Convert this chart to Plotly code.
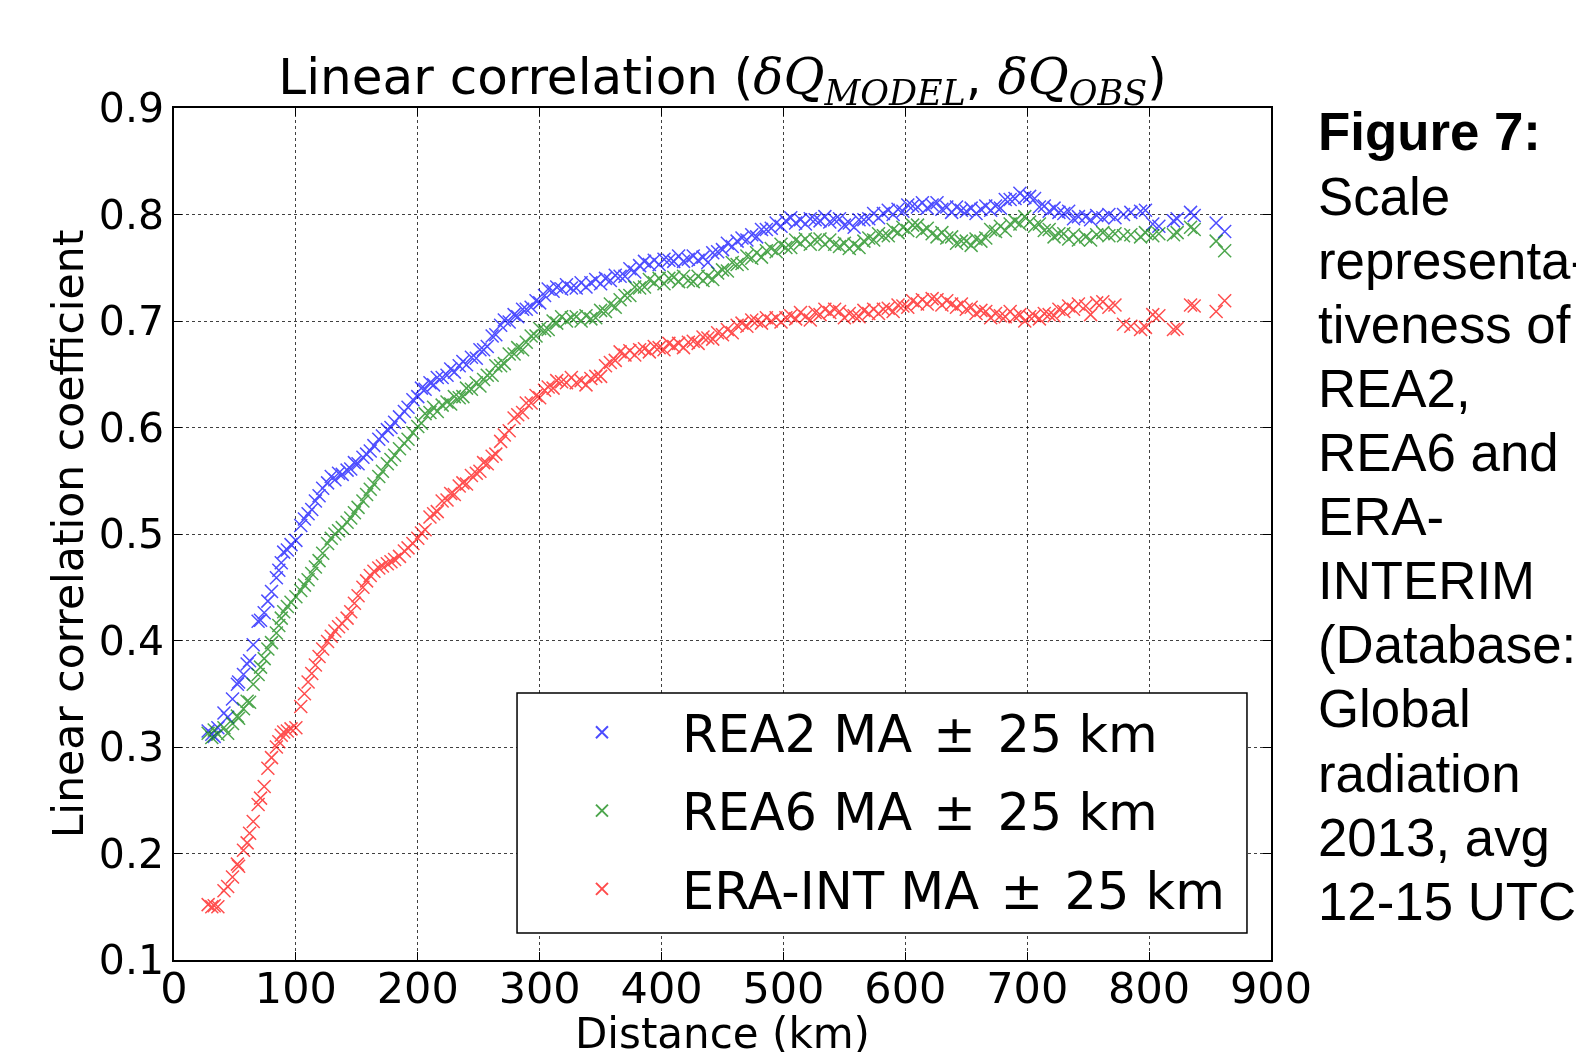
import plotly.graph_objects as go

# ---------------- data ----------------
distance_km = [
    28, 31, 33, 36, 41, 44, 48, 52, 53, 57,
    60, 62, 65, 69, 71, 74, 77, 80, 84, 86,
    88, 90, 93, 96, 100, 104, 107, 110, 113, 116,
    119, 122, 126, 129, 132, 135, 138, 142, 145, 148,
    151, 155, 158, 161, 164, 168, 171, 175, 178, 181,
    185, 189, 192, 196, 200,
    203, 206, 210, 213, 216, 220, 224, 227, 230, 234,
    237, 240, 244, 248, 251, 254, 257, 261, 264, 268,
    271, 275, 279, 282, 286, 289, 293, 297, 300, 304,
    307, 311, 314, 318, 322, 326, 330, 334, 338, 342,
    346, 350, 354, 358, 362, 366, 370, 374, 378, 382,
    386, 390, 394, 398, 402, 406, 410, 414, 418, 422,
    426, 430, 434, 438, 442, 446, 450, 454, 458, 462,
    466, 470, 474, 478, 482, 486, 490, 494, 498, 502,
    506, 510, 514, 518, 522, 526, 530, 534, 538, 542,
    546, 550, 554, 558, 562, 566, 570, 574, 578, 582,
    586, 590, 594, 598, 602, 606, 610, 614, 618, 622,
    626, 630, 634, 638, 642, 646, 650, 654, 658, 662,
    666, 670, 674, 678, 682, 686, 690, 694, 698, 702,
    706, 710, 714, 718, 722, 726, 730, 734, 738, 742,
    748, 752, 757, 762, 767, 772, 779, 785, 793, 797,
    803, 808, 820, 823, 834, 837, 855, 862,
]

rea2_corr = [
    .315, .312, .310, .318, .332, .328, .345, .359, .361, .368,
    .378, .381, .396, .418, .419, .426, .437, .446, .459, .466,
    .473, .483, .485, .490, .494, .508, .514, .519, .523, .531,
    .536, .543, .548, .554, .551, .557, .556, .560, .561, .567,
    .566, .572, .575, .578, .583, .589, .592, .598, .600, .605,
    .610, .615, .619, .626, .629,
    .637, .636, .642, .640, .647, .647, .649, .655, .652, .658,
    .662, .659, .666, .665, .673, .673, .676, .686, .687, .696,
    .701, .699, .706, .704, .711, .711, .713, .719, .717, .724,
    .730, .728, .732, .730, .734, .731, .731, .736, .732, .736,
    .739, .735, .740, .738, .743, .742, .742, .749, .746, .752,
    .756, .753, .757, .753, .758, .757, .756, .761, .756, .758,
    .761, .757, .760, .755, .764, .765, .767, .773, .770, .775,
    .778, .776, .781, .779, .786, .786, .787, .792, .789, .794,
    .797, .792, .795, .791, .796, .795, .794, .798, .793, .795,
    .796, .790, .792, .788, .795, .795, .796, .801, .797, .801,
    .804, .800, .805, .803, .809, .808, .807, .811, .806, .809,
    .811, .805, .807, .802, .807, .804, .803, .806, .801, .805,
    .808, .804, .808, .806, .814, .814, .815, .820, .816, .817,
    .815, .807, .808, .803, .806, .802, .801, .803, .796, .798,
    .798, .795, .799, .797, .800, .797, .800, .802, .803, .804,
    .791, .789, .794, .796, .802, .799, .792, .784,
]

rea6_corr = [
    .313, .309, .316, .312, .318, .313, .322, .329, .327, .336,
    .343, .342, .359, .368, .375, .383, .392, .398, .407, .414,
    .421, .427, .432, .436, .441, .447, .452, .457, .463, .469,
    .475, .482, .491, .496, .500, .503, .506, .511, .515, .520,
    .525, .531, .537, .542, .547, .554, .559, .566, .570, .574,
    .580, .585, .589, .595, .601,
    .604, .613, .614, .619, .615, .621, .624, .622, .629, .628,
    .629, .637, .636, .642, .639, .645, .649, .649, .658, .658,
    .660, .669, .669, .675, .673, .680, .686, .686, .693, .691,
    .692, .700, .698, .704, .700, .703, .704, .700, .705, .702,
    .703, .710, .709, .716, .713, .720, .724, .724, .732, .731,
    .732, .739, .736, .740, .735, .740, .741, .737, .742, .738,
    .737, .742, .738, .742, .739, .745, .748, .747, .755, .753,
    .754, .761, .759, .764, .760, .766, .768, .765, .772, .769,
    .769, .776, .773, .777, .772, .776, .777, .772, .776, .772,
    .770, .773, .768, .772, .769, .775, .778, .776, .782, .780,
    .780, .786, .783, .788, .785, .790, .790, .784, .787, .782,
    .779, .783, .778, .779, .773, .775, .775, .771, .777, .775,
    .778, .786, .784, .789, .785, .791, .794, .791, .798, .793,
    .789, .791, .785, .786, .779, .782, .782, .777, .781, .776,
    .779, .776, .781, .783, .780, .782, .780, .781, .779, .783,
    .780, .782, .781, .783, .788, .786, .775, .766,
]

era_int_corr = [
    .152, .150, .151, .150, .165, .169, .178, .190, .188, .203,
    .210, .219, .230, .246, .252, .263, .280, .290, .300, .305,
    .311, .314, .315, .317, .318, .338, .350, .361, .369, .377,
    .385, .392, .399, .404, .409, .413, .416, .421, .427, .435,
    .442, .450, .456, .461, .465, .468, .470, .472, .474, .476,
    .479, .484, .487, .491, .496,
    .501, .504, .516, .519, .521, .531, .532, .538, .537, .545,
    .548, .547, .555, .557, .559, .567, .566, .573, .575, .587,
    .593, .597, .609, .612, .614, .623, .623, .630, .628, .635,
    .638, .637, .644, .643, .642, .647, .642, .644, .640, .646,
    .648, .648, .658, .661, .663, .671, .668, .672, .668, .673,
    .674, .671, .676, .675, .673, .679, .676, .679, .675, .680,
    .681, .679, .685, .684, .683, .689, .687, .692, .689, .696,
    .698, .695, .701, .700, .698, .703, .700, .703, .699, .703,
    .705, .702, .708, .704, .701, .708, .706, .711, .708, .711,
    .709, .703, .707, .705, .704, .710, .707, .711, .707, .711,
    .712, .709, .715, .714, .713, .719, .716, .720, .716, .721,
    .720, .715, .719, .716, .713, .716, .711, .713, .707, .710,
    .709, .703, .707, .705, .704, .709, .704, .706, .700, .704,
    .705, .702, .707, .706, .705, .711, .709, .714, .711, .716,
    .714, .706, .717, .718, .713, .715, .697, .695, .692, .694,
    .706, .705, .692, .693, .715, .714, .709, .719,
]

SP = "\u00a0\u200a"
series_names = [f"REA2 MA{SP}\u00b1{SP}25 km",
                f"REA6 MA{SP}\u00b1{SP}25 km",
                f"ERA-INT MA{SP}\u00b1{SP}25 km"]
series_values = [rea2_corr, rea6_corr, era_int_corr]
series_colors = ["rgb(0,0,255)", "rgb(0,128,0)", "rgb(255,0,0)"]

x_ticks = [0, 100, 200, 300, 400, 500, 600, 700, 800, 900]
y_ticks = [0.1, 0.2, 0.3, 0.4, 0.5, 0.6, 0.7, 0.8, 0.9]
y_tick_labels = ["0.1", "0.2", "0.3", "0.4", "0.5", "0.6", "0.7", "0.8", "0.9"]

x_title = "Distance (km)"
y_title = "Linear correlation coefficient"
caption_lines = ["<b>Figure 7:</b>", "Scale", "representa-", "tiveness of", "REA2,",
                 "REA6 and", "ERA-", "INTERIM", "(Database:", "Global", "radiation",
                 "2013, avg", "12-15 UTC)"]

# ---------------- figure ----------------
FONT = "DejaVu Sans"
fig = go.Figure()
for i, (name, vals, col) in enumerate(zip(series_names, series_values, series_colors)):
    fig.add_trace(go.Scatter(
        x=distance_km, y=vals, mode="markers", name=name,
        legendgroup=f"g{i}",
        opacity=0.7,
        marker=dict(symbol="x-thin", size=13, color=col,
                    line=dict(color=col, width=1.5)),
    ))

math_style = "font-family:'DejaVu Serif';font-style:italic"
title_text = (
    "Linear correlation ("
    f"<span style=\"{math_style}\">\u03b4Q<sub>MODEL</sub></span>, "
    f"<span style=\"{math_style}\">\u03b4Q<sub>OBS</sub></span>)"
)

# layout geometry (figure pixels)
FIG_W, FIG_H = 1576, 1044
PLOT_TOP, PLOT_BOTTOM = 100, 952
PLOT_H = PLOT_BOTTOM - PLOT_TOP
CAP_FONT = 52.8
CAP_FIRST_TOP, CAP_STEP = 92.5, 64.1

fig.update_layout(
    width=FIG_W, height=FIG_H,
    margin=dict(l=166, r=313, t=PLOT_TOP, b=FIG_H - PLOT_BOTTOM, autoexpand=False),
    paper_bgcolor="white", plot_bgcolor="white",
    font=dict(family=FONT, size=41, color="black"),
    title=dict(text=title_text, x=0.5, xref="paper", xanchor="center",
               y=1 - 68.5 / FIG_H, yref="container", yanchor="middle",
               font=dict(family=FONT, size=50, color="black")),
    showlegend=True,
    legend=dict(
        x=0.3172, y=0.3138, xanchor="left", yanchor="top",
        bgcolor="rgba(0,0,0,0)", borderwidth=0,
        font=dict(family=FONT, size=51, color="black"),
        itemwidth=150, tracegroupgap=9, traceorder="grouped",
        itemsizing="constant",
    ),
    shapes=[dict(type="rect", xref="paper", yref="paper",
                 x0=0.3127, x1=0.9781, y0=0.0317, y1=0.3134,
                 line=dict(color="black", width=1.5), fillcolor="white",
                 layer="above")],
)

fig.update_xaxes(
    range=[0, 900], tickvals=x_ticks, ticks="inside", ticklen=8, tickwidth=1,
    tickcolor="black", showline=True, linecolor="black", linewidth=1.5, mirror="ticks",
    showgrid=True, gridcolor="rgba(0,0,0,0.75)", griddash="dot", gridwidth=1,
    zeroline=False, automargin=False, ticklabelstandoff=-10,
    tickfont=dict(family=FONT, size=43),
)
fig.update_yaxes(
    range=[0.1, 0.9], tickvals=y_ticks, ticktext=y_tick_labels, ticks="inside",
    ticklen=8, tickwidth=1, tickcolor="black", showline=True, linecolor="black",
    linewidth=1.5, mirror="ticks",
    showgrid=True, gridcolor="rgba(0,0,0,0.75)", griddash="dot", gridwidth=1,
    zeroline=False, automargin=False,
    title=dict(text=y_title, font=dict(family=FONT, size=42.5), standoff=2),
    tickfont=dict(family=FONT, size=41),
)

# x-axis title (annotation so it can sit at the very bottom, as in the reference)
fig.add_annotation(
    text=x_title, xref="paper", yref="paper", x=0.5, y=(PLOT_BOTTOM - 999.0) / PLOT_H,
    xanchor="center", yanchor="top", showarrow=False,
    font=dict(family=FONT, size=42, color="black"),
)

for i, line in enumerate(caption_lines):
    top_px = CAP_FIRST_TOP + CAP_STEP * i
    fig.add_annotation(
        text=line,
        xref="paper", yref="paper", x=1.0411,
        y=(PLOT_BOTTOM - top_px) / PLOT_H,
        xanchor="left", yanchor="top", align="left", showarrow=False,
        font=dict(family="Liberation Sans", size=CAP_FONT, color="black"),
    )

fig.write_html("out.html")
